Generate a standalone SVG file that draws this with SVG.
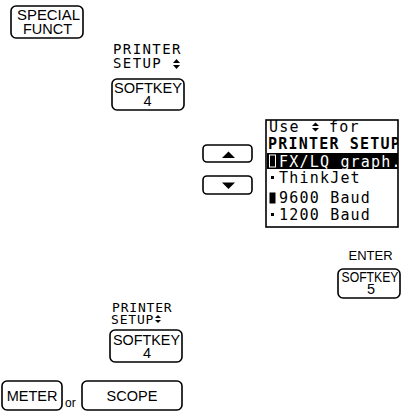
<svg xmlns="http://www.w3.org/2000/svg" width="402" height="412" viewBox="0 0 402 412">
<defs>
<clipPath id="scr"><rect x="266" y="120" width="132" height="107"/></clipPath>
</defs>
<style>
.key{fill:#fff;stroke:#000;stroke-width:1.6}
.kt{font-family:"Liberation Sans",Arial,sans-serif;font-size:14.5px;fill:#000;text-anchor:middle}
.lcd{font-family:"DejaVu Sans Mono",monospace;font-size:15px;letter-spacing:1.2px;fill:#000}
.lbl{font-family:"DejaVu Sans Mono",monospace;font-size:14px;letter-spacing:1.4px;fill:#000}
.sym{fill:#000}
</style>
<rect width="402" height="412" fill="#fff"/>
<g id="special-funct">
<rect class="key" x="11" y="6" width="72" height="32" rx="5"/>
<text class="kt" x="48.5" y="20" textLength="63" lengthAdjust="spacingAndGlyphs">SPECIAL</text>
<text class="kt" x="47.5" y="34">FUNCT</text>
</g>
<g id="label-printer-setup-1">
<text class="lbl" x="113" y="54">PRINTER</text>
<text class="lbl" x="113" y="68">SETUP</text>
<polygon class="sym" points="173,63 180,63 176.5,59"/>
<polygon class="sym" points="173,65 180,65 176.5,69"/>
</g>
<g id="softkey-4-a">
<rect class="key" x="112" y="79" width="72" height="31" rx="5"/>
<text class="kt" x="148" y="93" textLength="68" lengthAdjust="spacingAndGlyphs">SOFTKEY</text>
<text class="kt" x="147.5" y="106">4</text>
</g>
<g id="key-up">
<rect class="key" x="203" y="145" width="49" height="17" rx="4"/>
<polygon class="sym" points="222,158 235,158 228.5,151.5"/>
</g>
<g id="key-down">
<rect class="key" x="203" y="176" width="49" height="18" rx="4"/>
<polygon class="sym" points="222,182.5 235,182.5 228.5,189"/>
</g>
<g id="screen">
<rect x="266" y="120" width="132" height="107" fill="#fff"/>
<g clip-path="url(#scr)">
<text class="lcd" x="269" y="132">Use</text>
<polygon class="sym" points="312,126 319,126 315.5,122.5"/>
<polygon class="sym" points="312,128 319,128 315.5,131.5"/>
<text class="lcd" x="329" y="132">for</text>
<text class="lcd" x="268" y="149" textLength="133" lengthAdjust="spacing" style="font-weight:bold">PRINTER SETUP</text>
<rect x="267" y="153" width="131" height="16" fill="#000"/>
<rect x="269.5" y="155" width="6" height="12" fill="#000" stroke="#fff" stroke-width="1"/>
<text class="lcd" x="279" y="166.5" style="fill:#fff">FX/LQ graph.</text>
<rect x="271" y="176" width="3" height="3" fill="#000"/>
<text class="lcd" x="279" y="183">ThinkJet</text>
<rect x="269.5" y="192.5" width="6" height="11" fill="#000"/>
<text class="lcd" x="279" y="203">9600 Baud</text>
<rect x="271" y="213" width="3" height="3" fill="#000"/>
<text class="lcd" x="279" y="220">1200 Baud</text>
</g>
<rect x="266" y="120" width="132" height="107" fill="none" stroke="#000" stroke-width="1.6"/>
</g>
<g id="label-enter">
<text class="kt" x="370.5" y="260" style="font-size:13px">ENTER</text>
</g>
<g id="softkey-5">
<rect class="key" x="338" y="269" width="62" height="29" rx="5"/>
<text class="kt" x="370" y="282" textLength="57" lengthAdjust="spacingAndGlyphs">SOFTKEY</text>
<text class="kt" x="371" y="294">5</text>
</g>
<g id="label-printer-setup-2">
<text class="lbl" x="112" y="312" style="font-size:13px;letter-spacing:0.8px">PRINTER</text>
<text class="lbl" x="111" y="324" style="font-size:13px;letter-spacing:0.8px">SETUP</text>
<polygon class="sym" points="155,318 161,318 158,315"/>
<polygon class="sym" points="155,320 161,320 158,323"/>
</g>
<g id="softkey-4-b">
<rect class="key" x="110" y="330" width="72" height="32" rx="5"/>
<text class="kt" x="146.5" y="345" textLength="67" lengthAdjust="spacingAndGlyphs">SOFTKEY</text>
<text class="kt" x="147" y="358">4</text>
</g>
<g id="meter">
<rect class="key" x="2" y="381" width="60" height="29" rx="5"/>
<text class="kt" x="32" y="401">METER</text>
</g>
<text x="65" y="407" style="font-family:'Liberation Sans',Arial,sans-serif;font-size:12px">or</text>
<g id="scope">
<rect class="key" x="82" y="381" width="100" height="29" rx="5"/>
<text class="kt" x="132" y="401">SCOPE</text>
</g>
<g id="connectors"></g>
</svg>
